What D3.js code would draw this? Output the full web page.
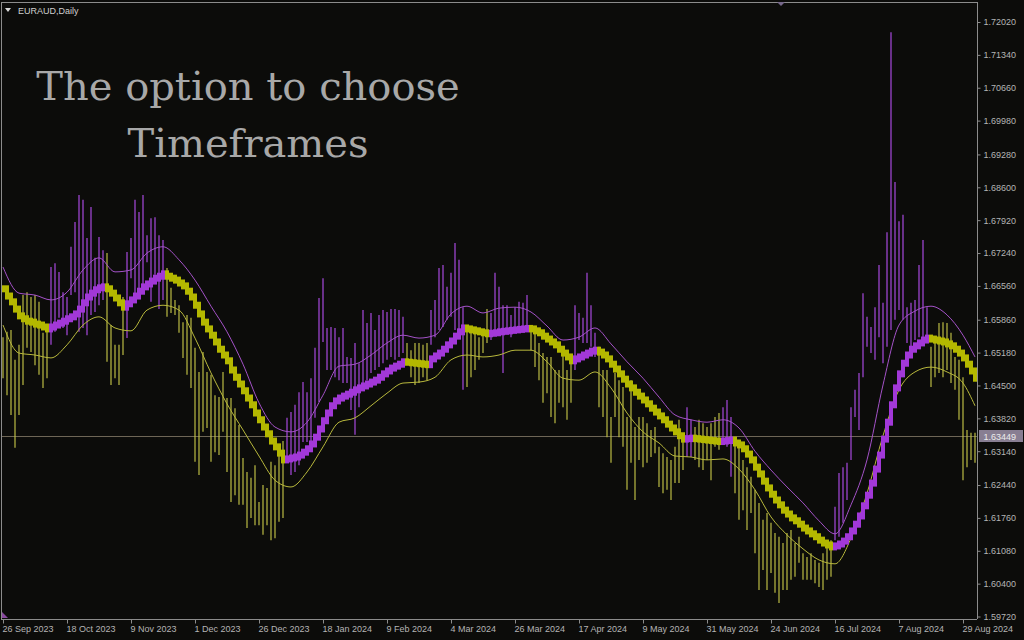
<!DOCTYPE html>
<html>
<head>
<meta charset="utf-8">
<script src="https://cdn.jsdelivr.net/npm/d3@7"></script>
<style>
  html, body { margin: 0; padding: 0; background: #0c0c0a; overflow: hidden; }
  svg { display: block; }
</style>
</head>
<body>
<svg id="chart" width="1024" height="640"></svg>
<script>
// ---- chart data -------------------------------------------------------
const symbolLabel = "EURAUD,Daily";
const titleLines = ["The option to choose", "Timeframes"];

// date labels, one every 16 daily bars starting at bar 0
const dateLabels = ["26 Sep 2023", "18 Oct 2023", "9 Nov 2023", "1 Dec 2023", "26 Dec 2023",
  "18 Jan 2024", "9 Feb 2024", "4 Mar 2024", "26 Mar 2024", "17 Apr 2024", "9 May 2024",
  "31 May 2024", "24 Jun 2024", "16 Jul 2024", "7 Aug 2024", "29 Aug 2024"];
const barsPerDateLabel = 16;

const priceTicks = [1.72020, 1.71340, 1.70660, 1.69980, 1.69280, 1.68600, 1.67920, 1.67240,
  1.66560, 1.65860, 1.65180, 1.64500, 1.63820, 1.63140, 1.62440, 1.61760, 1.61080, 1.60400, 1.59720];
const priceMin = 1.59720, priceMax = 1.72020;
const lastPrice = 1.63449;

// smoothed centre line, one value per daily bar
const mid = [
  1.6650,1.6635,1.6623,1.6608,1.6594,1.6588,1.6583,1.6581,1.6577,1.6575,
  1.6571,1.6567,1.6571,1.6575,1.6579,1.6583,1.6588,1.6592,1.6598,1.6608,
  1.6621,1.6633,1.6641,1.6648,1.6652,1.6654,1.6650,1.6641,1.6631,1.6621,
  1.6612,1.6619,1.6627,1.6635,1.6645,1.6654,1.6660,1.6666,1.6672,1.6676,
  1.6681,1.6676,1.6672,1.6668,1.6662,1.6656,1.6645,1.6633,1.6616,1.6598,
  1.6581,1.6567,1.6554,1.6540,1.6525,1.6513,1.6501,1.6482,1.6467,1.6453,
  1.6439,1.6424,1.6410,1.6393,1.6379,1.6364,1.6350,1.6335,1.6323,1.6310,
  1.6296,1.6298,1.6300,1.6302,1.6306,1.6312,1.6319,1.6329,1.6343,1.6360,
  1.6377,1.6393,1.6408,1.6418,1.6424,1.6428,1.6432,1.6436,1.6441,1.6445,
  1.6449,1.6453,1.6457,1.6461,1.6467,1.6474,1.6480,1.6486,1.6490,1.6494,
  1.6499,1.6498,1.6497,1.6496,1.6495,1.6494,1.6493,1.6505,1.6511,1.6517,
  1.6525,1.6534,1.6542,1.6552,1.6561,1.6569,1.6567,1.6565,1.6563,1.6561,
  1.6559,1.6557,1.6558,1.6559,1.6561,1.6562,1.6563,1.6564,1.6565,1.6566,
  1.6567,1.6568,1.6567,1.6563,1.6559,1.6552,1.6546,1.6540,1.6534,1.6525,
  1.6517,1.6509,1.6501,1.6505,1.6509,1.6513,1.6517,1.6521,1.6523,1.6519,
  1.6513,1.6505,1.6494,1.6484,1.6474,1.6463,1.6453,1.6445,1.6436,1.6428,
  1.6420,1.6412,1.6403,1.6395,1.6387,1.6379,1.6370,1.6362,1.6354,1.6346,
  1.6339,1.6340,1.6341,1.6340,1.6339,1.6338,1.6337,1.6336,1.6335,1.6334,
  1.6335,1.6336,1.6337,1.6331,1.6327,1.6319,1.6308,1.6296,1.6281,1.6267,
  1.6252,1.6238,1.6225,1.6213,1.6203,1.6192,1.6184,1.6176,1.6170,1.6163,
  1.6155,1.6149,1.6143,1.6137,1.6130,1.6124,1.6120,1.6116,1.6118,1.6122,
  1.6128,1.6137,1.6149,1.6163,1.6180,1.6201,1.6223,1.6248,1.6277,1.6306,
  1.6339,1.6374,1.6410,1.6445,1.6474,1.6496,1.6513,1.6525,1.6532,1.6538,
  1.6544,1.6548,1.6546,1.6544,1.6542,1.6540,1.6536,1.6532,1.6525,1.6517,
  1.6507,1.6494,1.6480,1.6465
];

// per-bar spike extremes
const spikeHigh = [
  1.6550,1.6561,1.6565,1.6503,1.6534,1.6637,1.6643,1.6633,1.6637,1.6623,
  1.6559,1.6569,1.6695,1.6703,1.6685,1.6643,1.6633,1.6737,1.6788,1.6844,
  1.6834,1.6755,1.6819,1.6714,1.6757,1.6730,1.6724,1.6575,1.6534,1.6534,
  1.6633,1.6726,1.6755,1.6834,1.6809,1.6844,1.6761,1.6796,1.6798,1.6761,
  1.6751,1.6693,1.6652,1.6627,1.6616,1.6581,1.6596,1.6590,1.6528,1.6478,
  1.6519,1.6478,1.6472,1.6430,1.6426,1.6478,1.6424,1.6424,1.6403,1.6368,
  1.6300,1.6271,1.6259,1.6285,1.6209,1.6244,1.6238,1.6292,1.6285,1.6327,
  1.6335,1.6383,1.6395,1.6410,1.6436,1.6457,1.6436,1.6465,1.6528,1.6631,
  1.6672,1.6569,1.6571,1.6569,1.6550,1.6569,1.6509,1.6507,1.6538,1.6496,
  1.6606,1.6579,1.6600,1.6565,1.6596,1.6606,1.6602,1.6608,1.6608,1.6606,
  1.6592,1.6538,1.6523,1.6538,1.6538,1.6534,1.6538,1.6606,1.6627,1.6693,
  1.6699,1.6654,1.6683,1.6745,1.6710,1.6612,1.6565,1.6561,1.6565,1.6550,
  1.6559,1.6608,1.6600,1.6683,1.6654,1.6616,1.6616,1.6596,1.6612,1.6623,
  1.6621,1.6637,1.6571,1.6559,1.6538,1.6517,1.6509,1.6509,1.6482,1.6482,
  1.6523,1.6482,1.6496,1.6616,1.6600,1.6590,1.6683,1.6616,1.6559,1.6530,
  1.6482,1.6482,1.6385,1.6476,1.6461,1.6447,1.6385,1.6461,1.6364,1.6385,
  1.6385,1.6372,1.6358,1.6364,1.6323,1.6310,1.6302,1.6296,1.6323,1.6379,
  1.6337,1.6405,1.6379,1.6364,1.6379,1.6372,1.6364,1.6372,1.6385,1.6393,
  1.6405,1.6420,1.6385,1.6343,1.6323,1.6296,1.6281,1.6261,1.6234,1.6207,
  1.6172,1.6186,1.6166,1.6145,1.6137,1.6124,1.6145,1.6151,1.6124,1.6137,
  1.6103,1.6095,1.6103,1.6089,1.6083,1.6103,1.6116,1.6130,1.6199,1.6269,
  1.6281,1.6290,1.6405,1.6441,1.6476,1.6641,1.6592,1.6571,1.6612,1.6699,
  1.6621,1.6767,1.7181,1.6871,1.6790,1.6803,1.6612,1.6621,1.6627,1.6699,
  1.6751,1.6612,1.6530,1.6544,1.6579,1.6581,1.6579,1.6559,1.6509,1.6503,
  1.6467,1.6358,1.6352,1.6352
];
const spikeLow = [
  1.6465,1.6430,1.6389,1.6321,1.6389,1.6451,1.6528,1.6519,1.6492,1.6472,
  1.6445,1.6465,1.6534,1.6561,1.6590,1.6569,1.6554,1.6637,1.6643,1.6561,
  1.6569,1.6554,1.6596,1.6602,1.6616,1.6627,1.6499,1.6451,1.6465,1.6451,
  1.6513,1.6548,1.6672,1.6623,1.6637,1.6643,1.6705,1.6623,1.6679,1.6608,
  1.6627,1.6592,1.6600,1.6596,1.6559,1.6507,1.6472,1.6445,1.6292,1.6265,
  1.6354,1.6362,1.6292,1.6312,1.6306,1.6354,1.6271,1.6209,1.6223,1.6203,
  1.6203,1.6155,1.6176,1.6161,1.6161,1.6141,1.6161,1.6130,1.6134,1.6168,
  1.6176,1.6292,1.6265,1.6271,1.6285,1.6333,1.6333,1.6335,1.6383,1.6416,
  1.6540,1.6482,1.6482,1.6467,1.6461,1.6455,1.6455,1.6399,1.6348,1.6405,
  1.6447,1.6461,1.6476,1.6482,1.6488,1.6496,1.6503,1.6509,1.6503,1.6509,
  1.6517,1.6496,1.6467,1.6451,1.6455,1.6467,1.6461,1.6534,1.6550,1.6565,
  1.6571,1.6586,1.6592,1.6565,1.6565,1.6441,1.6447,1.6467,1.6482,1.6503,
  1.6517,1.6538,1.6544,1.6565,1.6565,1.6476,1.6565,1.6550,1.6565,1.6565,
  1.6565,1.6565,1.6523,1.6488,1.6461,1.6414,1.6434,1.6385,1.6372,1.6414,
  1.6405,1.6379,1.6414,1.6482,1.6544,1.6538,1.6538,1.6530,1.6509,1.6405,
  1.6385,1.6343,1.6290,1.6385,1.6343,1.6323,1.6234,1.6290,1.6213,1.6296,
  1.6281,1.6290,1.6302,1.6310,1.6240,1.6227,1.6234,1.6213,1.6248,1.6248,
  1.6275,1.6302,1.6302,1.6296,1.6281,1.6275,1.6296,1.6254,1.6323,1.6317,
  1.6331,1.6323,1.6261,1.6227,1.6172,1.6192,1.6151,1.6186,1.6103,1.6027,
  1.6068,1.6027,1.6062,1.6021,1.6000,1.6027,1.6027,1.6048,1.6054,1.6083,
  1.6048,1.6048,1.6048,1.6041,1.6033,1.6027,1.6048,1.6054,1.6130,1.6137,
  1.6166,1.6213,1.6296,1.6385,1.6358,1.6467,1.6530,1.6517,1.6503,1.6550,
  1.6496,1.6530,1.6565,1.6586,1.6606,1.6586,1.6538,1.6530,1.6544,1.6550,
  1.6538,1.6538,1.6447,1.6467,1.6476,1.6467,1.6482,1.6455,1.6441,1.6379,
  1.6254,1.6281,1.6296,1.6290
];

// envelope lines, one value every 4 bars plus the last bar
const upperBand = [
  1.6695,1.6641,1.6637,1.6627,1.6643,1.6689,1.6714,1.6685,1.6689,1.6724,
  1.6737,1.6710,1.6668,1.6614,1.6561,1.6494,1.6414,1.6364,1.6354,1.6374,
  1.6430,1.6490,1.6494,1.6513,1.6538,1.6554,1.6548,1.6554,1.6598,1.6614,
  1.6600,1.6610,1.6612,1.6602,1.6573,1.6544,1.6550,1.6569,1.6536,1.6499,
  1.6465,1.6426,1.6389,1.6379,1.6374,1.6379,1.6362,1.6314,1.6275,1.6240,
  1.6207,1.6170,1.6143,1.6203,1.6296,1.6451,1.6575,1.6604,1.6614,1.6596,
  1.6554,1.6509
];
const lowerBand = [
  1.6575,1.6517,1.6513,1.6507,1.6534,1.6575,1.6592,1.6569,1.6563,1.6606,
  1.6616,1.6606,1.6548,1.6476,1.6412,1.6358,1.6304,1.6254,1.6240,1.6271,
  1.6323,1.6374,1.6383,1.6408,1.6434,1.6455,1.6457,1.6467,1.6503,1.6513,
  1.6509,1.6513,1.6523,1.6523,1.6499,1.6465,1.6461,1.6478,1.6445,1.6393,
  1.6354,1.6331,1.6304,1.6302,1.6296,1.6298,1.6277,1.6234,1.6178,1.6141,
  1.6112,1.6089,1.6081,1.6134,1.6227,1.6346,1.6441,1.6478,1.6488,1.6478,
  1.6455,1.6408
];
const bandBars = d3.range(0, 241, 4).concat([mid.length - 1]);

// ---- colours ----------------------------------------------------------
const C = {
  bg: "#0c0c0a",
  frame: "#8c8c8c",
  text: "#b4b4b4",
  title: "#a8a8a8",
  upMid: "#a238d8",
  downMid: "#b4b800",
  upSpike: "#a84ade",
  downSpike: "#bcbc44",
  upperBand: "#a452c8",
  lowerBand: "#b8b83c",
  priceLine: "#6e6656",
  priceBox: "#887e92"
};

// ---- layout ------------------------------------------------------------
const W = 1024, H = 640;
const plotRight = 977, plotBottom = 619, plotTop = 2, plotLeft = 1;

const svg = d3.select("#chart");
svg.append("rect").attr("width", W).attr("height", H).attr("fill", C.bg);

const x = d3.scaleLinear().domain([0, mid.length - 1]).range([3, 975]);
const y = d3.scaleLinear().domain([priceMin, priceMax]).range([616.5, 22]);

const plot = svg.append("g");
plot.append("clipPath").attr("id", "plotClip")
  .append("rect").attr("x", plotLeft).attr("y", plotTop)
  .attr("width", plotRight - plotLeft).attr("height", plotBottom - plotTop);
const inner = plot.append("g").attr("clip-path", "url(#plotClip)");

// last price line
inner.append("line")
  .attr("x1", plotLeft).attr("x2", plotRight)
  .attr("y1", Math.round(y(lastPrice)) + 0.5).attr("y2", Math.round(y(lastPrice)) + 0.5)
  .attr("stroke", C.priceLine).attr("stroke-width", 1);

const rising = i => i > 0 && mid[i] > mid[i - 1];
const bars = d3.range(mid.length);

// spikes
inner.append("g").selectAll("line").data(bars).join("line")
  .attr("x1", i => Math.round(x(i))).attr("x2", i => Math.round(x(i)))
  .attr("y1", i => y(spikeHigh[i])).attr("y2", i => y(spikeLow[i]))
  .attr("stroke", i => rising(i) ? C.upSpike : C.downSpike)
  .attr("stroke-width", 1.2);

// envelope lines
const bandLine = arr => d3.line()
  .x((v, k) => x(bandBars[k])).y(v => y(v))
  .curve(d3.curveMonotoneX)(arr);
inner.append("path").attr("d", bandLine(upperBand))
  .attr("fill", "none").attr("stroke", C.upperBand).attr("stroke-width", 1);
inner.append("path").attr("d", bandLine(lowerBand))
  .attr("fill", "none").attr("stroke", C.lowerBand).attr("stroke-width", 1);

// thick stepped centre line, coloured by slope
const half = 3.5;
inner.append("g").selectAll("rect").data(bars).join("rect")
  .attr("x", i => Math.round(x(i)) - 2)
  .attr("width", 4)
  .attr("y", i => Math.min(y(mid[i]), y(mid[Math.max(0, i - 1)])) - half)
  .attr("height", i => Math.abs(y(mid[i]) - y(mid[Math.max(0, i - 1)])) + 2 * half)
  .attr("fill", i => rising(i) ? C.upMid : C.downMid);

// ---- frame & axes -------------------------------------------------------
svg.append("line").attr("x1", plotLeft + 0.5).attr("x2", plotLeft + 0.5)
  .attr("y1", plotTop).attr("y2", plotBottom).attr("stroke", C.frame);
svg.append("line").attr("x1", plotLeft).attr("x2", plotRight)
  .attr("y1", plotTop + 0.5).attr("y2", plotTop + 0.5).attr("stroke", C.frame);

// price axis
const yAxis = d3.axisRight(y).tickValues(priceTicks)
  .tickFormat(d3.format(".5f")).tickSize(3).tickPadding(3);
const gy = svg.append("g").attr("transform", `translate(${plotRight + 0.5},0)`).call(yAxis);
gy.select(".domain").attr("stroke", C.frame).attr("d", `M0,${plotTop}V${plotBottom}`);
gy.selectAll(".tick line").attr("stroke", C.frame);
gy.selectAll(".tick text").attr("fill", C.text)
  .attr("font-family", "'Liberation Sans', Arial, sans-serif").attr("font-size", 9);

// last price tag
const lpY = Math.round(y(lastPrice));
svg.append("rect").attr("x", plotRight + 2).attr("y", lpY - 6)
  .attr("width", 44).attr("height", 12).attr("fill", C.priceBox);
svg.append("text").attr("x", plotRight + 6.5).attr("y", lpY + 3.5)
  .attr("fill", "#ececec").attr("font-family", "'Liberation Sans', Arial, sans-serif")
  .attr("font-size", 9).text(d3.format(".5f")(lastPrice));

// date axis
const dateTicks = dateLabels.map((d, k) => k * barsPerDateLabel);
const xAxis = d3.axisBottom(x).tickValues(dateTicks)
  .tickFormat((d, k) => dateLabels[k]).tickSize(4).tickPadding(2);
const gx = svg.append("g").attr("transform", `translate(0,${plotBottom + 0.5})`).call(xAxis);
gx.select(".domain").attr("stroke", C.frame).attr("d", `M${plotLeft},0H${plotRight}`);
gx.selectAll(".tick").attr("transform", d => `translate(${Math.round(x(d)) + 0.5},0)`);
gx.selectAll(".tick line").attr("stroke", C.frame);
gx.selectAll(".tick text").attr("fill", C.text).attr("text-anchor", "start")
  .attr("x", -1).attr("dy", "0.71em")
  .attr("font-family", "'Liberation Sans', Arial, sans-serif").attr("font-size", 9);

// ---- labels -------------------------------------------------------------
svg.append("path").attr("d", "M5,8L11,8L8,12Z").attr("fill", "#d8d8d8");
svg.append("text").attr("x", 18).attr("y", 14).attr("fill", "#cfcfcf")
  .attr("font-family", "'Liberation Sans', Arial, sans-serif").attr("font-size", 9)
  .text(symbolLabel);

// chart shift marker and bar marker
svg.append("path").attr("d", "M777,2L785,2L781,6Z").attr("fill", "#76688a");
svg.append("path").attr("d", "M2,612L2,618L8,618Z").attr("fill", "#8a4aa0");

const title = svg.append("g")
  .attr("font-family", "'DejaVu Serif', 'Liberation Serif', serif")
  .attr("font-size", 40).attr("fill", C.title).attr("text-anchor", "middle");
title.selectAll("text").data(titleLines).join("text")
  .attr("x", 248).attr("y", (d, k) => 100 + k * 57).text(d => d);
</script>
</body>
</html>
